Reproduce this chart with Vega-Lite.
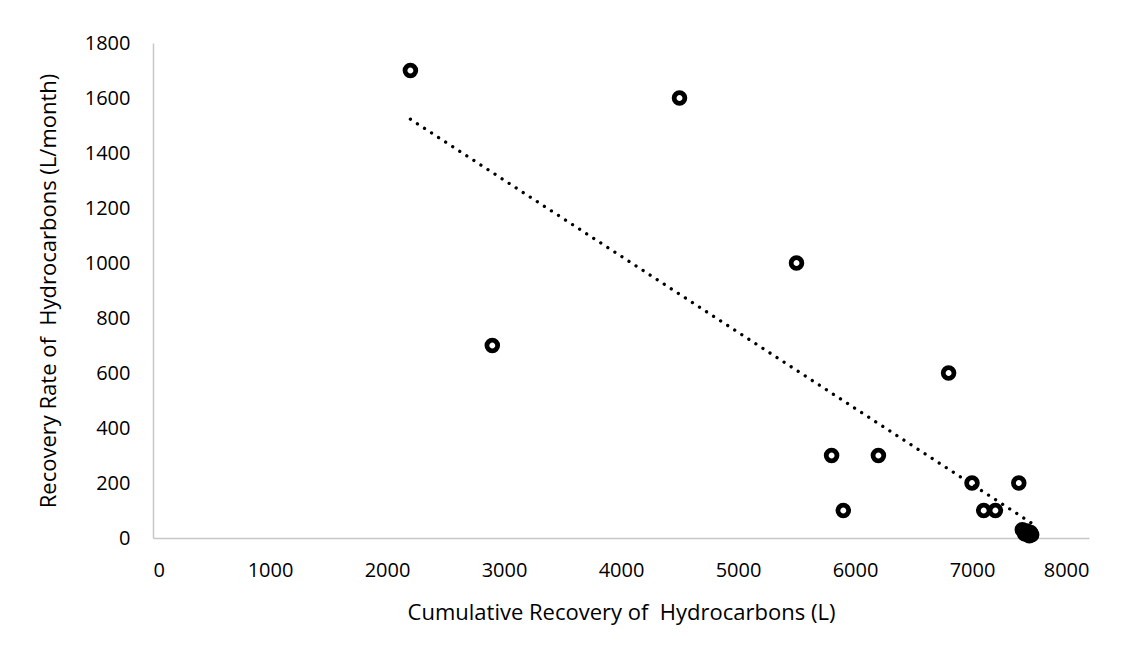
{
  "$schema": "https://vega.github.io/schema/vega-lite/v6.json",
  "width": 936,
  "height": 495,
  "autosize": "none",
  "padding": {"left": 153, "top": 43, "right": 43, "bottom": 107},
  "background": "white",
  "config": {
    "view": {"stroke": null},
    "font": "Open Sans",
    "axis": {
      "grid": false,
      "ticks": false,
      "domainColor": "#c8c8c8",
      "domainWidth": 1.5,
      "labelFont": "Open Sans",
      "labelFontSize": 20,
      "labelColor": "#000000",
      "titleFont": "Open Sans",
      "titleFontSize": 22,
      "titleFontWeight": "normal",
      "titleColor": "#000000",
      "format": "d"
    }
  },
  "data": {
    "values": [
      {"cumulative": 2200, "rate": 1700},
      {"cumulative": 2900, "rate": 700},
      {"cumulative": 4500, "rate": 1600},
      {"cumulative": 5500, "rate": 1000},
      {"cumulative": 5800, "rate": 300},
      {"cumulative": 5900, "rate": 100},
      {"cumulative": 6200, "rate": 300},
      {"cumulative": 6800, "rate": 600},
      {"cumulative": 7000, "rate": 200},
      {"cumulative": 7100, "rate": 100},
      {"cumulative": 7200, "rate": 100},
      {"cumulative": 7400, "rate": 200},
      {"cumulative": 7430, "rate": 30},
      {"cumulative": 7450, "rate": 15},
      {"cumulative": 7470, "rate": 25},
      {"cumulative": 7490, "rate": 8},
      {"cumulative": 7500, "rate": 20},
      {"cumulative": 7510, "rate": 12}
    ]
  },
  "layer": [
    {
      "transform": [{"regression": "rate", "on": "cumulative"}],
      "mark": {"type": "line", "color": "#000000", "strokeWidth": 3.3, "strokeDash": [0.01, 8.4], "strokeCap": "round"},
      "encoding": {
        "x": {"field": "cumulative", "type": "quantitative"},
        "y": {"field": "rate", "type": "quantitative"}
      }
    },
    {
      "mark": {"type": "point", "shape": "circle", "filled": false, "stroke": "#000000", "strokeWidth": 4.8, "size": 115, "opacity": 1},
      "encoding": {
        "x": {
          "field": "cumulative",
          "type": "quantitative",
          "scale": {"domain": [0, 8000], "nice": false},
          "axis": {
            "values": [0, 1000, 2000, 3000, 4000, 5000, 6000, 7000, 8000],
            "format": "d",
            "labelPadding": 22,
            "title": "Cumulative Recovery of\u00a0 Hydrocarbons (L)",
            "titleX": 468,
            "titleY": 74,
            "titleBaseline": "middle",
            "titleAnchor": "middle"
          }
        },
        "y": {
          "field": "rate",
          "type": "quantitative",
          "scale": {"domain": [0, 1800], "nice": false},
          "axis": {
            "values": [0, 200, 400, 600, 800, 1000, 1200, 1400, 1600, 1800],
            "format": "d",
            "labelPadding": 23,
            "title": "Recovery Rate of\u00a0 Hydrocarbons (L/month)",
            "titleX": -105,
            "titleY": 247.5,
            "titleBaseline": "middle",
            "titleAnchor": "middle"
          }
        }
      }
    }
  ]
}
